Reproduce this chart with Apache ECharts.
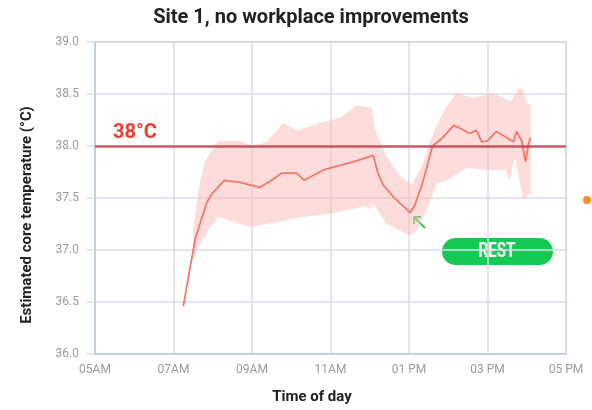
<!DOCTYPE html>
<html>
<head>
<meta charset="utf-8">
<script src="https://cdn.jsdelivr.net/npm/echarts@6/dist/echarts.min.js"></script>
<style>
  html, body { margin: 0; padding: 0; background: #fff; }
  #chart { width: 592px; height: 410px; }
</style>
</head>
<body>
<div id="chart"></div>
<script>
// hour of day -> label
const xTicks = [5, 7, 9, 11, 13, 15, 17];
const xTickLabels = ["05AM", "07AM", "09AM", "11AM", "01 PM", "03 PM", "05 PM"];

// mean estimated core temperature [hour, °C]
const meanTemp = [
  [7.25, 36.46], [7.55, 37.10], [7.85, 37.46], [8.0, 37.55], [8.3, 37.67],
  [8.7, 37.65], [9.2, 37.60], [9.5, 37.67], [9.76, 37.74], [10.14, 37.74],
  [10.33, 37.67], [10.82, 37.77], [11.1, 37.80], [11.6, 37.85], [12.09, 37.91],
  [12.2, 37.75], [12.35, 37.62], [12.6, 37.51], [13.03, 37.36], [13.15, 37.43],
  [13.35, 37.65], [13.6, 38.0], [13.8, 38.06], [14.15, 38.20], [14.55, 38.12],
  [14.72, 38.15], [14.85, 38.04], [15.0, 38.05], [15.23, 38.14], [15.66, 38.04],
  [15.74, 38.14], [15.87, 38.05], [15.97, 37.85], [16.04, 38.01], [16.1, 38.08]
];

// spread band, upper edge (left to right)
const bandUpper = [
  [7.5, 37.2], [7.65, 37.6], [7.8, 37.85], [8.14, 38.05], [8.69, 38.05],
  [9.03, 38.0], [9.37, 38.04], [9.8, 38.22], [10.14, 38.15], [10.73, 38.22],
  [11.24, 38.27], [11.66, 38.39], [12.05, 38.37], [12.13, 38.16], [12.43, 37.9],
  [12.77, 37.71], [13.07, 37.63], [13.32, 37.8], [13.58, 38.09], [13.79, 38.26],
  [13.96, 38.38], [14.21, 38.51], [14.64, 38.46], [15.15, 38.51], [15.45, 38.45],
  [15.6, 38.43], [15.79, 38.55], [15.9, 38.55], [16.0, 38.42], [16.1, 38.40]
];

// spread band, lower edge (left to right)
const bandLower = [
  [7.5, 36.9], [7.59, 37.0], [7.9, 37.2], [8.14, 37.32], [8.95, 37.22],
  [9.67, 37.27], [10.31, 37.32], [10.99, 37.35], [11.87, 37.42], [12.0, 37.40],
  [12.09, 37.45], [12.43, 37.25], [13.03, 37.14], [13.2, 37.19], [13.45, 37.38],
  [13.7, 37.64], [13.96, 37.67], [14.47, 37.79], [15.06, 37.77], [15.45, 37.77],
  [15.57, 37.67], [15.7, 37.9], [15.91, 37.48], [16.1, 37.55]
];

const threshold = 38;

const chart = echarts.init(document.getElementById("chart"));

const bandPolygon = bandUpper.concat(bandLower.slice().reverse());

chart.setOption({
  animation: false,
  textStyle: { fontFamily: "Roboto" },
  title: {
    text: "Site 1, no workplace improvements",
    left: 306,
    textAlign: "center",
    top: 3,
    textStyle: { fontSize: 20, fontWeight: "bold", color: "#222", fontFamily: "Roboto" }
  },
  grid: {
    left: 95, right: 26, top: 42, bottom: 56,
    show: true, borderColor: "#b8cbe2", borderWidth: 1.5
  },
  xAxis: {
    type: "value",
    min: 5, max: 17, interval: 2,
    name: "Time of day",
    nameLocation: "middle",
    nameGap: 36,
    nameTextStyle: { fontSize: 15, fontWeight: "bold", color: "#222", padding: [0, 37, 0, 0] },
    axisLine: { lineStyle: { color: "#b8cbe2", width: 1.5 } },
    axisTick: { show: false },
    axisLabel: {
      color: "#9a9a9a", fontSize: 12, margin: 10,
      formatter: v => xTickLabels[xTicks.indexOf(v)] || ""
    },
    splitLine: { lineStyle: { color: "#dcdcea", width: 1.5 } }
  },
  yAxis: {
    type: "value",
    min: 36, max: 39, interval: 0.5,
    name: "Estimated core temperature (°C)",
    nameLocation: "middle",
    nameGap: 60,
    nameTextStyle: { fontSize: 15, fontWeight: "bold", color: "#222", padding: [0, 34, 0, 0] },
    axisLine: { show: true, lineStyle: { color: "#b8cbe2", width: 1.5 } },
    axisTick: { show: true, length: 8, lineStyle: { color: "#dcdcea", width: 1.5 } },
    axisLabel: { color: "#9a9a9a", fontSize: 12, margin: 16, formatter: v => v.toFixed(1) },
    splitLine: { lineStyle: { color: "#dcdcea", width: 1.5 } }
  },
  series: [
    {
      name: "band",
      type: "custom",
      silent: true,
      data: [0],
      renderItem: (params, api) => ({
        type: "polygon",
        shape: { points: bandPolygon.map(p => api.coord(p)) },
        style: { fill: "rgba(251, 185, 185, 0.5)" }
      }),
      z: 1
    },
    {
      name: "mean",
      type: "line",
      data: meanTemp,
      symbol: "none",
      lineStyle: { color: "#f27868", width: 1.8 },
      z: 3,
      markLine: {
        silent: true,
        symbol: "none",
        data: [{ yAxis: threshold }],
        lineStyle: { color: "rgba(190, 55, 70, 0.8)", width: 2.5, type: "solid" },
        label: {
          show: true,
          position: "insideStartTop",
          formatter: "38°C",
          color: "#f23c2d",
          fontSize: 20,
          fontWeight: "bold",
          distance: [18, 3]
        }
      }
    }
  ],
  graphic: [
    {
      type: "line",
      shape: { x1: 425, y1: 228, x2: 414, y2: 217 },
      style: { stroke: "#2ecc5a", lineWidth: 2 }
    },
    {
      type: "polyline",
      shape: { points: [[414, 224], [414, 217], [421, 217]] },
      style: { stroke: "#2ecc5a", lineWidth: 2, fill: null }
    },
    {
      type: "rect",
      shape: { x: 442, y: 238, width: 111, height: 27, r: 13.5 },
      style: { fill: "#16c955" }
    },
    {
      type: "text",
      x: 497, y: 252,
      scaleX: 0.72,
      style: {
        text: "REST", fill: "#fff", fontSize: 21, fontWeight: "bold",
        fontFamily: "Roboto",
        align: "center", verticalAlign: "middle"
      }
    },
    {
      type: "circle",
      shape: { cx: 587, cy: 200, r: 4 },
      style: { fill: "#f59320" }
    }
  ]
});
</script>
</body>
</html>
